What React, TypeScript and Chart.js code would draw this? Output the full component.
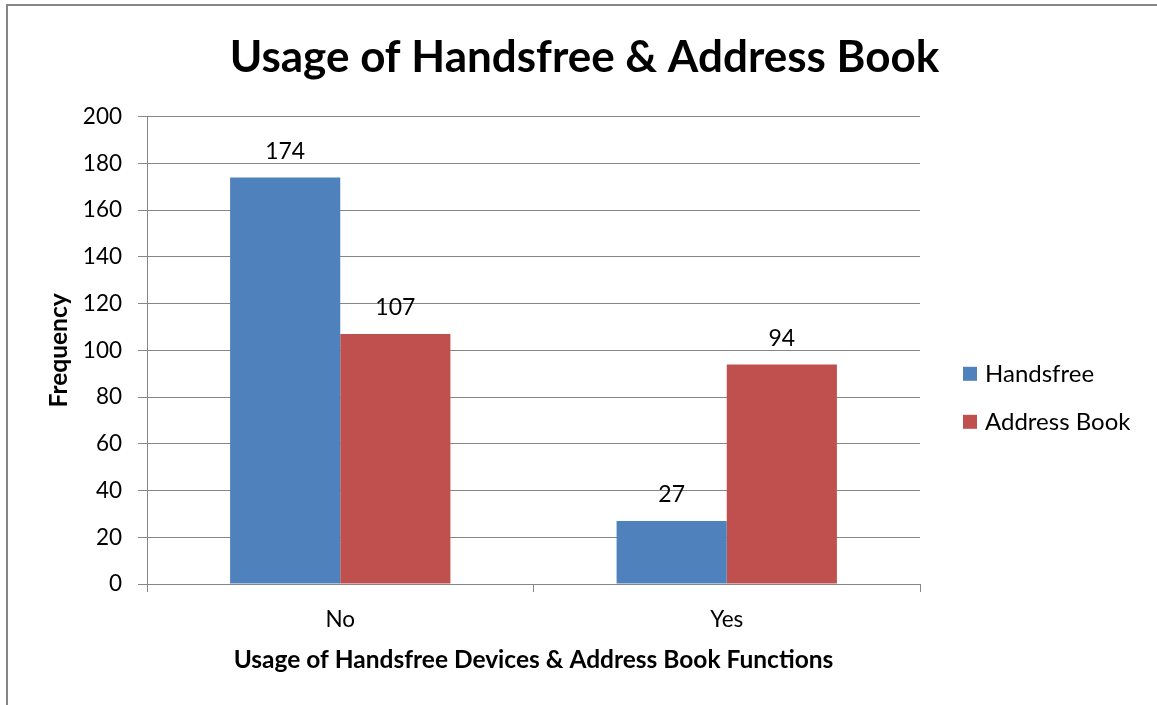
import React, { useEffect, useRef } from "react";
import { Chart, registerables } from "chart.js";

Chart.register(...registerables);

const categories = ["No", "Yes"];
const handsfree = [174, 27];
const addressBook = [107, 94];
const seriesNames = ["Handsfree", "Address Book"];
const seriesColors = ["#4F81BD", "#C0504D"];
const yMin = 0;
const yMax = 200;
const yStep = 20;

const FONT = "Lato";
const AXIS_GRAY = "#868686";

// Writes each bar's value just above it
const valueLabels = {
  id: "valueLabels",
  afterDatasetsDraw(chart: any) {
    const { ctx } = chart;
    ctx.save();
    ctx.font = `23px ${FONT}`;
    ctx.fillStyle = "#000";
    ctx.textAlign = "center";
    ctx.textBaseline = "middle";
    chart.data.datasets.forEach((ds: any, di: number) => {
      const meta = chart.getDatasetMeta(di);
      meta.data.forEach((bar: any, i: number) => {
        ctx.fillText(String(ds.data[i]), bar.x, bar.y - 26);
      });
    });
    ctx.restore();
  },
};

// Square-swatch legend in the space right of the plot
const sideLegend = {
  id: "sideLegend",
  afterDraw(chart: any) {
    const { ctx, chartArea } = chart;
    ctx.save();
    ctx.font = `24px ${FONT}`;
    ctx.textBaseline = "middle";
    ctx.textAlign = "left";
    chart.data.datasets.forEach((ds: any, i: number) => {
      const cy = chartArea.top + 257 + i * 48;
      const x = chartArea.right + 43;
      ctx.fillStyle = ds.backgroundColor;
      ctx.fillRect(x, cy - 7, 14, 14);
      ctx.fillStyle = "#000";
      ctx.fillText(ds.label, x + 22, cy);
    });
    ctx.restore();
  },
};

export default function App() {
  const canvasRef = useRef<HTMLCanvasElement | null>(null);

  useEffect(() => {
    if (!canvasRef.current) return;
    const chart = new Chart(canvasRef.current, {
      type: "bar",
      data: {
        labels: categories,
        datasets: [
          {
            label: seriesNames[0],
            data: handsfree,
            backgroundColor: seriesColors[0],
            categoryPercentage: 0.57,
            barPercentage: 1,
          },
          {
            label: seriesNames[1],
            data: addressBook,
            backgroundColor: seriesColors[1],
            categoryPercentage: 0.57,
            barPercentage: 1,
          },
        ],
      },
      options: {
        responsive: false,
        animation: false,
        layout: { padding: { left: 12, right: 0, top: 0, bottom: 0 } },
        plugins: {
          legend: { display: false },
          tooltip: { enabled: false },
          title: {
            display: true,
            text: "Usage of Handsfree & Address Book",
            color: "#000",
            font: { family: FONT, size: 44, weight: "bold" },
            padding: { top: 31, bottom: 33 },
          },
        },
        scales: {
          x: {
            offset: true,
            grid: {
              offset: true,
              drawOnChartArea: false,
              drawTicks: true,
              tickLength: 8,
              color: AXIS_GRAY,
            },
            border: { display: true, color: AXIS_GRAY, width: 1 },
            ticks: {
              color: "#000",
              font: { family: FONT, size: 22.5 },
              padding: 14,
            },
            title: {
              display: true,
              text: "Usage of Handsfree Devices & Address Book Functions",
              color: "#000",
              font: { family: FONT, size: 24.5, weight: "bold" },
              padding: { top: 0, bottom: 30 },
            },
            afterFit(scale: any) {
              scale.height = 121;
            },
          },
          y: {
            min: yMin,
            max: yMax,
            grid: { color: AXIS_GRAY, tickLength: 9 },
            border: { display: true, color: AXIS_GRAY, width: 1 },
            ticks: {
              stepSize: yStep,
              color: "#000",
              font: { family: FONT, size: 22.5 },
              padding: 16,
            },
            title: {
              display: true,
              text: "Frequency",
              color: "#000",
              font: { family: FONT, size: 24.5, weight: "bold" },
              padding: { top: 32, bottom: 0 },
            },
            afterFit(scale: any) {
              scale.width = 135;
            },
          },
          legendSpace: {
            type: "linear",
            position: "right",
            display: true,
            grid: { display: false },
            border: { display: false },
            ticks: { display: false },
            afterFit(scale: any) {
              scale.width = 237;
            },
          },
        },
      },
      plugins: [valueLabels, sideLegend],
    } as any);
    return () => chart.destroy();
  }, []);

  return (
    <div
      style={{
        position: "fixed",
        left: 0,
        top: 0,
        width: 1157,
        height: 705,
        background: "#fff",
        overflow: "hidden",
      }}
    >
      <div
        style={{
          position: "absolute",
          left: 6,
          top: 4,
          width: 1200,
          height: 800,
          borderLeft: `2px solid ${AXIS_GRAY}`,
          borderTop: `2px solid ${AXIS_GRAY}`,
        }}
      />
      <canvas
        ref={canvasRef}
        width={1157}
        height={705}
        style={{ position: "absolute", left: 0, top: 0 }}
      />
    </div>
  );
}
